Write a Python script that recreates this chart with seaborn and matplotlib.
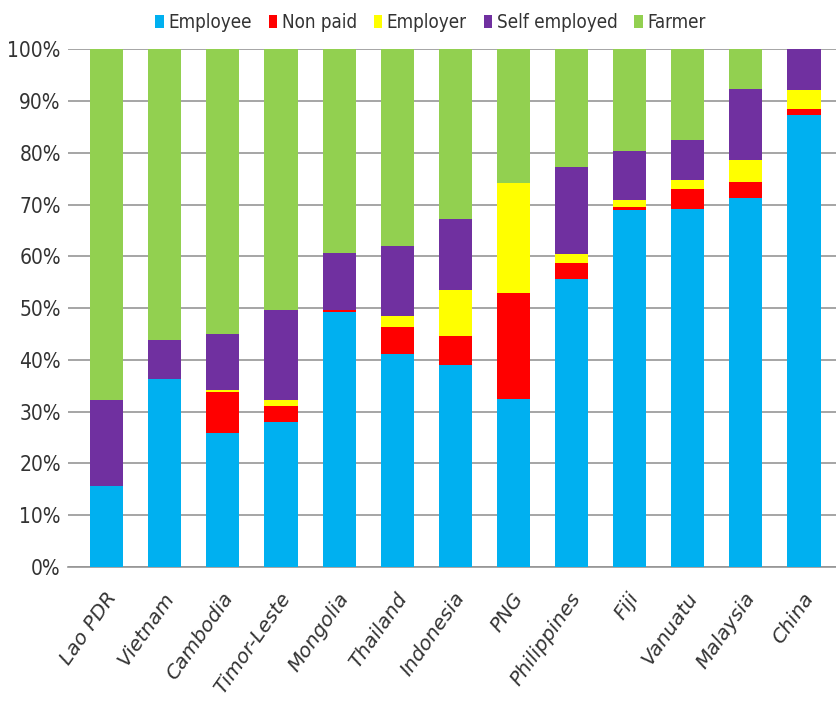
import matplotlib
matplotlib.use("Agg")
import matplotlib.pyplot as plt
from matplotlib.patches import Patch
from matplotlib.ticker import PercentFormatter
from matplotlib.transforms import ScaledTranslation
import numpy as np
import pandas as pd
import seaborn as sns

countries = ["Lao PDR", "Vietnam", "Cambodia", "Timor-Leste", "Mongolia", "Thailand",
             "Indonesia", "PNG", "Philippines", "Fiji", "Vanuatu", "Malaysia", "China"]
employee = [15.6, 36.3, 25.9, 28.0, 49.2, 41.1, 39.0, 32.4, 55.6, 68.9, 69.2, 71.2, 87.3]
non_paid = [0.0, 0.0, 7.9, 3.1, 0.4, 5.2, 5.6, 20.6, 3.1, 0.6, 3.8, 3.1, 1.1]
employer = [0.0, 0.0, 0.4, 1.1, 0.0, 2.2, 8.9, 21.2, 1.7, 1.4, 1.7, 4.4, 3.8]
self_employed = [16.6, 7.5, 10.8, 17.4, 11.0, 13.5, 13.7, 0.0, 16.8, 9.5, 7.7, 13.7, 7.8]
farmer = [67.8, 56.2, 55.0, 50.4, 39.4, 38.0, 32.8, 25.8, 22.8, 19.6, 17.6, 7.6, 0.0]

series = ["Employee", "Non paid", "Employer", "Self employed", "Farmer"]
colors = ["#00B0F0", "#FF0000", "#FFFF00", "#7030A0", "#92D050"]

df = pd.DataFrame({"country": countries, "Employee": employee, "Non paid": non_paid,
                   "Employer": employer, "Self employed": self_employed, "Farmer": farmer})
cum = df[series].cumsum(axis=1)

sns.set_style("white")
plt.rcParams["font.family"] = ["DejaVu Sans"]
plt.rcParams["font.stretch"] = "condensed"
text_col = "#333333"

fig = plt.figure(figsize=(8.36, 7.05), dpi=100)
ax = fig.add_axes([0.081, 0.196, 0.919, 0.734])

# draw stacked bars from the top layer down so lower layers overlay upper ones
for name, col in reversed(list(zip(series, colors))):
    sns.barplot(x=df["country"], y=cum[name], color=col, width=0.57,
                saturation=1, linewidth=0, ax=ax, zorder=3)

ax.set_ylim(0, 100)
ax.set_xlim(-0.67, 12.55)
ax.set_yticks(np.arange(0, 101, 10))
ax.yaxis.set_major_formatter(PercentFormatter(decimals=0))
ax.grid(axis="y", color="#969696", linewidth=1.2, zorder=0)
ax.set_axisbelow(True)
for s in ["left", "right", "top"]:
    ax.spines[s].set_visible(False)
ax.spines["bottom"].set_color("#969696")
ax.spines["bottom"].set_linewidth(1.2)
ax.set_xlabel("")
ax.set_ylabel("")
ax.tick_params(axis="both", length=0)
ax.tick_params(axis="y", labelsize=15, pad=5, labelcolor=text_col)
ax.set_xticks(range(len(countries)))
ax.set_xticklabels(countries, rotation=55, ha="right", rotation_mode="anchor",
                   fontsize=14.5, fontstyle="oblique", fontstretch="normal",
                   color=text_col)
ax.tick_params(axis="x", pad=16)
shift = ScaledTranslation(-2 / 100, 0, fig.dpi_scale_trans)
for lbl in ax.get_xticklabels():
    lbl.set_transform(lbl.get_transform() + shift)

handles = [Patch(facecolor=c, edgecolor="none", label=n) for n, c in zip(series, colors)]
fig.legend(handles=handles, loc="upper center", bbox_to_anchor=(0.515, 1.006), ncol=5,
           frameon=False, fontsize=13.5, handlelength=0.45, handleheight=0.7,
           handletextpad=0.25, columnspacing=0.9, labelcolor=text_col)

fig.savefig("out.png", dpi=100)
